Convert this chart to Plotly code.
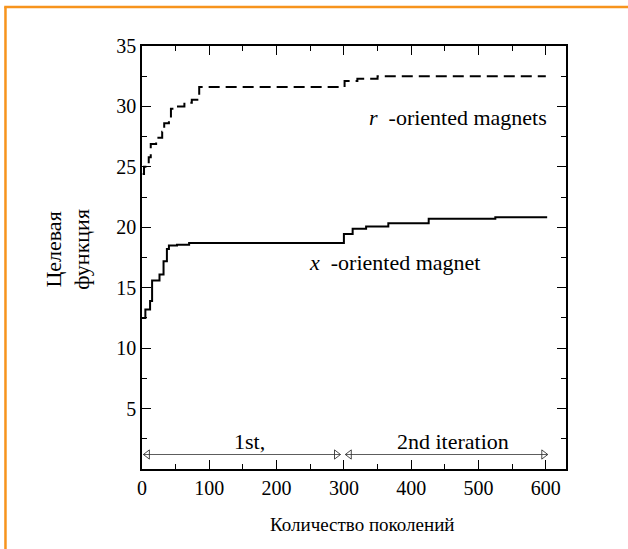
import plotly.graph_objects as go

# Objective function vs. number of generations (two optimisation runs)
r_gen = [1, 3, 10, 13, 21, 30, 33, 40, 43, 50, 63, 74, 85, 301, 320, 350, 600]
r_val = [24.4, 25.0, 25.8, 26.9, 27.4, 27.9, 28.6, 29.0, 29.8, 30.0, 30.3, 30.55, 31.6, 32.1, 32.3, 32.5, 32.5]

x_gen = [0, 5, 12, 15, 26, 32, 37, 40, 52, 70, 300, 313, 333, 366, 426, 525, 602]
x_val = [12.5, 13.2, 13.9, 15.6, 16.1, 17.2, 18.2, 18.5, 18.55, 18.7, 19.45, 19.87, 20.06, 20.33, 20.7, 20.83, 20.83]

x_ticks = [0, 100, 200, 300, 400, 500, 600]
y_ticks = [5, 10, 15, 20, 25, 30, 35]

stage_spans = [(2, 295), (302, 603)]
stage_labels = ["1st,", "2nd iteration"]
stage_label_x = [159, 462]
stage_y = 1.2

SERIF = "'Times New Roman', 'Liberation Serif', 'DejaVu Serif', serif"

fig = go.Figure()

fig.add_trace(go.Scatter(
    x=r_gen, y=r_val, mode="lines", line_shape="hv",
    line=dict(color="black", width=2, dash="11px,6px"),
    showlegend=False, hoverinfo="skip"))

fig.add_trace(go.Scatter(
    x=x_gen, y=x_val, mode="lines", line_shape="hv",
    line=dict(color="black", width=2),
    showlegend=False, hoverinfo="skip"))

# double-headed arrows marking the two iterations
head_off = 6  # heads sit just inside the span ends
for (a, b), lab, lx in zip(stage_spans, stage_labels, stage_label_x):
    fig.add_trace(go.Scatter(
        x=[a, b], y=[stage_y, stage_y], mode="lines",
        line=dict(color="#333333", width=0.8),
        showlegend=False, hoverinfo="skip"))
    fig.add_trace(go.Scatter(
        x=[a + head_off, b - head_off], y=[stage_y, stage_y], mode="markers",
        marker=dict(symbol=["triangle-left-open", "triangle-right-open"],
                    size=8, color="#333333", line=dict(width=0.9)),
        showlegend=False, hoverinfo="skip"))
    fig.add_annotation(x=lx, y=2.3, text=lab, showarrow=False,
                       font=dict(family=SERIF, size=22, color="black"))

fig.add_annotation(x=470, y=29.05, text="<i>r</i>  -oriented magnets",
                   showarrow=False, font=dict(family=SERIF, size=22, color="black"))
fig.add_annotation(x=375, y=17.06, text="<i>x</i>  -oriented magnet",
                   showarrow=False, font=dict(family=SERIF, size=22, color="black"))

# axis titles
fig.add_annotation(xref="paper", yref="paper", x=0.521, y=-0.132,
                   xanchor="center", yanchor="middle",
                   text="Количество поколений", showarrow=False,
                   font=dict(family=SERIF, size=19, color="black"))
fig.add_annotation(xref="paper", yref="paper", x=-0.175, y=0.52,
                   xanchor="center", yanchor="middle",
                   text="Целевая<br>функция", showarrow=False, textangle=-90,
                   font=dict(family=SERIF, size=22, color="black"))

# orange frame (top and left edges)
orange = "#F7941D"
fig.add_shape(type="line", xref="paper", yref="paper", x0=-0.322, x1=-0.322,
              y0=1.092, y1=-0.2, line=dict(color=orange, width=2.5))
fig.add_shape(type="line", xref="paper", yref="paper", x0=-0.325, x1=1.16,
              y0=1.092, y1=1.092, line=dict(color=orange, width=2.5))

axis_common = dict(
    showgrid=False, zeroline=False, showline=True, linecolor="black",
    linewidth=1.5, mirror="allticks", ticks="inside", ticklen=9,
    tickwidth=1.3, tickcolor="black",
    tickfont=dict(family=SERIF, size=20, color="black"),
)

fig.update_xaxes(range=[0, 630], tickvals=x_ticks,
                 minor=dict(dtick=50, ticks="inside", ticklen=5, tickwidth=1.2,
                            tickcolor="black", showgrid=False),
                 **axis_common)
fig.update_yaxes(range=[0, 35], tickvals=y_ticks,
                 minor=dict(dtick=2.5, ticks="inside", ticklen=5, tickwidth=1.2,
                            tickcolor="black", showgrid=False),
                 **axis_common)

fig.update_layout(
    width=628, height=549,
    margin=dict(l=142, r=62, t=46, b=80),
    paper_bgcolor="white", plot_bgcolor="white",
    font=dict(family=SERIF, color="black"),
)

fig.write_html("out.html")
